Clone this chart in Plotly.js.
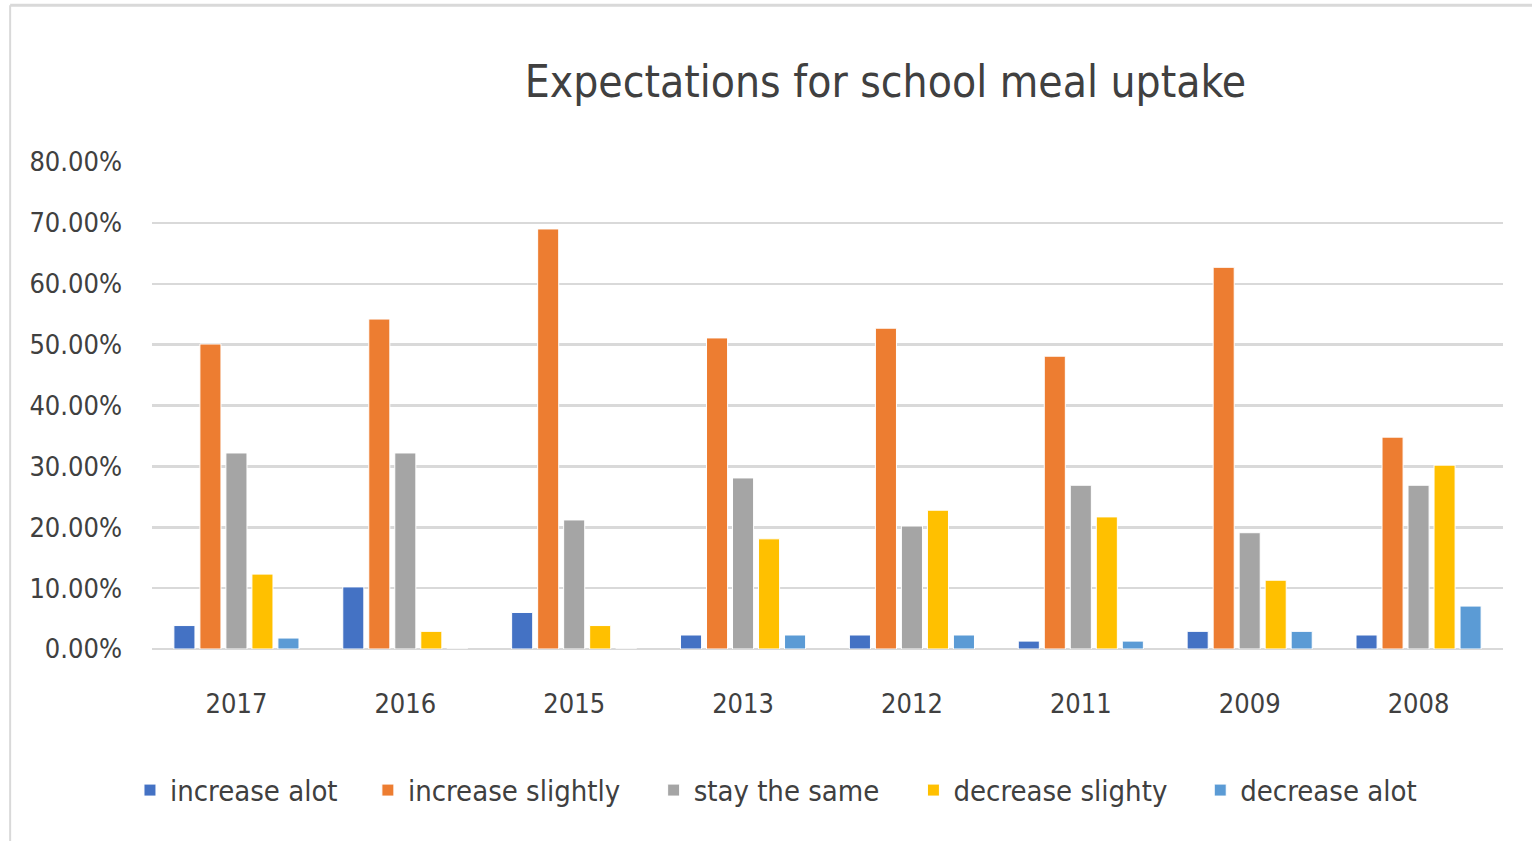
<!DOCTYPE html>
<html>
<head>
<meta charset="utf-8">
<script src="https://cdn.plot.ly/plotly-3.0.1.min.js"></script>
<style>
html,body{margin:0;padding:0;background:#fff;}
#chart{width:1532px;height:841px;}
</style>
</head>
<body>
<div id="chart"></div>
<script>
const years = ["2017","2016","2015","2013","2012","2011","2009","2008"];
const seriesNames = ["increase alot","increase slightly","stay the same","decrease slighty","decrease alot"];
const increaseAlot     = [0.0385, 0.102, 0.060, 0.023, 0.023, 0.013, 0.029, 0.023];
const increaseSlightly = [0.501, 0.542, 0.690, 0.511, 0.527, 0.481, 0.627, 0.348];
const stayTheSame      = [0.322, 0.322, 0.212, 0.281, 0.202, 0.269, 0.191, 0.269];
const decreaseSlighty  = [0.123, 0.029, 0.0385, 0.181, 0.228, 0.217, 0.113, 0.302];
const decreaseAlot     = [0.018, 0, 0, 0.023, 0.023, 0.013, 0.029, 0.0705];
const colors = ["#4472C4","#ED7D31","#A5A5A5","#FFC000","#5B9BD5"];
const allSeries = [increaseAlot, increaseSlightly, stayTheSame, decreaseSlighty, decreaseAlot];

const FONT = "Liberation Sans Narrow, DejaVu Sans Condensed, Arial Narrow, sans-serif";
const legendIds = ["legend","legend2","legend3","legend4","legend5"];
const legendX = [-0.0163, 0.1598, 0.3713, 0.5636, 0.7759];

const traces = allSeries.map((vals, i) => ({
  type: "bar",
  name: seriesNames[i],
  x: years,
  y: vals,
  legend: legendIds[i],
  marker: {color: colors[i], line: {color: "#ffffff", width: 1}},
  hoverinfo: "x+y+name"
}));

const layout = {
  width: 1532, height: 841,
  margin: {l: 152, r: 29, t: 162, b: 192},
  paper_bgcolor: "#ffffff",
  plot_bgcolor: "#ffffff",
  barmode: "group",
  bargap: 0.23,
  bargroupgap: 0.19,
  font: {family: FONT, color: "#404040", size: 27},
  title: {
    text: "Expectations for school meal uptake",
    font: {family: FONT, size: 44, color: "#404040"},
    x: 0.578, xanchor: "center", xref: "container",
    y: 0.903, yanchor: "middle", yref: "container"
  },
  xaxis: {
    type: "category",
    showgrid: false, zeroline: false, showline: false,
    ticks: "", ticklabelstandoff: 36,
    tickfont: {family: FONT, size: 27, color: "#404040"}
  },
  yaxis: {
    range: [0, 0.8], dtick: 0.1, tick0: 0,
    tickformat: ".2%",
    showgrid: true, gridcolor: "#d9d9d9", gridwidth: 2.5,
    zeroline: true, zerolinecolor: "#d9d9d9", zerolinewidth: 2.5,
    showline: false, ticks: "", ticklabelstandoff: 29,
    tickfont: {family: FONT, size: 27, color: "#404040"}
  },
  shapes: [
    {type: "line", xref: "paper", yref: "paper", x0: -0.105, x1: 1.1, y0: 1.322, y1: 1.322, line: {color: "#d9d9d9", width: 3}},
    {type: "line", xref: "paper", yref: "paper", x0: -0.105, x1: -0.105, y0: 1.322, y1: -0.45, line: {color: "#d9d9d9", width: 2}}
  ],
  showlegend: true
};
legendIds.forEach((id, i) => {
  layout[id] = {
    orientation: "h",
    x: legendX[i], xanchor: "left",
    y: -0.29, yanchor: "middle",
    font: {family: FONT, size: 29, color: "#404040"},
    itemwidth: 30,
    bgcolor: "rgba(0,0,0,0)"
  };
});

Plotly.newPlot("chart", traces, layout, {displayModeBar: false, staticPlot: true});
</script>
</body>
</html>
